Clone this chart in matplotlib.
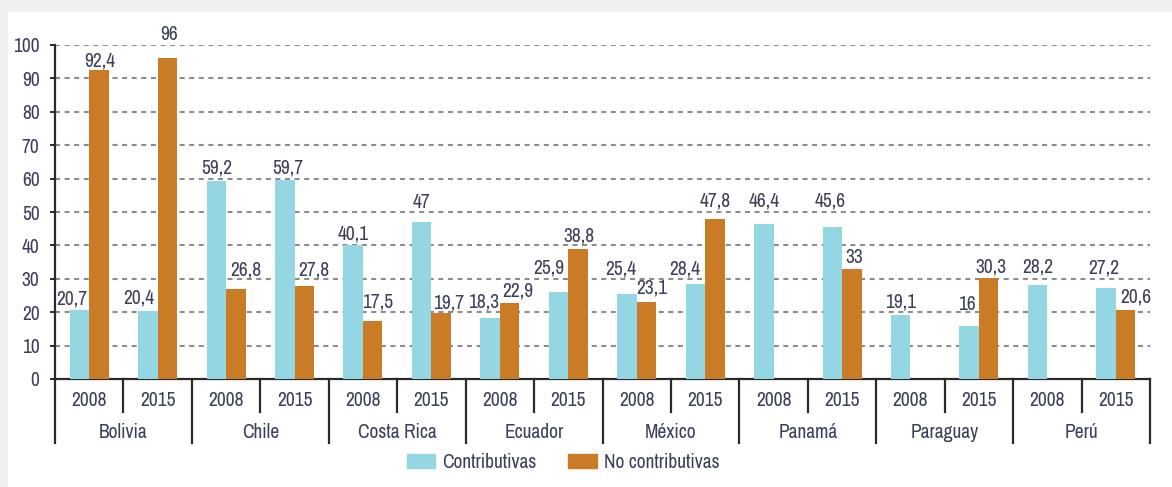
import numpy as np
import matplotlib
matplotlib.use('Agg')
import matplotlib.pyplot as plt
from matplotlib.patches import Patch, Rectangle
from matplotlib.lines import Line2D

countries = ['Bolivia', 'Chile', 'Costa Rica', 'Ecuador', 'México', 'Panamá', 'Paraguay', 'Perú']
years = ['2008', '2015']

# values per country: [2008, 2015]
contributivas = [[20.7, 20.4], [59.2, 59.7], [40.1, 47], [18.3, 25.9],
                 [25.4, 28.4], [46.4, 45.6], [19.1, 16], [28.2, 27.2]]
no_contributivas = [[92.4, 96], [26.8, 27.8], [17.5, 19.7], [22.9, 38.8],
                    [23.1, 47.8], [None, 33], [None, 30.3], [None, 20.6]]

# hand placed value labels (pixel shift x, pixel gap above the bar)
lab_blue = [[(-8, 5), (-9, 7)], [(0, 8), (3, 6)], [(0, 6), (0, 14)], [(-7, 10), (-10, 19)],
            [(-6, 20), (-11, 10)], [(0, 18), (-2, 20)], [(0, 8), (-2, 16)], [(0, 12), (-2, 15)]]
lab_orange = [[(1, 4), (2, 18)], [(10, 14), (10, 11)], [(5, 13), (7, 5)], [(8, 6), (1, 8)],
              [(5, 8), (0, 13)], [None, (2, 6)], [None, (2, 5)], [None, (10, 8)]]

BLUE = '#94d6e2'
ORANGE = '#c97b26'
TEXT = '#3b3f58'
LINE = '#2a2a2a'

plt.rcParams['font.family'] = ['Archivo Narrow', 'DejaVu Sans']

fig = plt.figure(figsize=(11.72, 4.87), dpi=100)
fig.patch.set_facecolor('#f0f0f0')
fig.patches.append(Rectangle((8 / 1172, 0), 1, 1 - 12 / 487, transform=fig.transFigure,
                             facecolor='white', edgecolor='none', zorder=-10))

left, right = 55 / 1172, 1150 / 1172
bottom, top = 1 - 379 / 487, 1 - 45 / 487
ax = fig.add_axes([left, bottom, right - left, top - bottom])
ax.set_facecolor('none')


def value_label(x, v, shift):
    dx, gap = shift
    ax.annotate(f'{v:g}'.replace('.', ','), (x, v), xytext=(dx * 0.72, gap * 0.72),
                textcoords='offset points', ha='center', va='baseline',
                fontsize=fs, color=TEXT, annotation_clip=False)


w = 0.285
fs = 14
for i, c in enumerate(countries):
    for j, y in enumerate(years):
        x = 2 * i + j + 0.5
        vb = contributivas[i][j]
        vo = no_contributivas[i][j]
        ax.bar(x - w / 2, vb, width=w, color=BLUE, zorder=3)
        value_label(x - w / 2, vb, lab_blue[i][j])
        if vo is not None:
            ax.bar(x + w / 2, vo, width=w, color=ORANGE, zorder=3)
            value_label(x + w / 2, vo, lab_orange[i][j])

ax.set_xlim(0, 16)
ax.set_ylim(0, 100)
ax.set_yticks(np.arange(0, 101, 10))
ax.set_yticklabels([str(v) for v in range(0, 101, 10)], fontsize=fs, color=TEXT)
ax.tick_params(axis='y', length=3.6, width=1.4, color=LINE, pad=7.5)
ax.set_xticks([])
for v in range(10, 101, 10):
    ax.axhline(v, color='#8c8c8c', linestyle=(0, (2.4, 2.2)), linewidth=1.5, zorder=1)

for s in ['top', 'right']:
    ax.spines[s].set_visible(False)
for s in ['left', 'bottom']:
    ax.spines[s].set_color(LINE)
    ax.spines[s].set_linewidth(1.6)

# category axis: year labels, country labels and separators
tr = ax.get_xaxis_transform()
px = 1 / ((top - bottom) * 487)  # one pixel in axes y units
for k in range(17):
    if k % 2 == 0:
        y_end = -(443 - 379) * px
    else:
        y_end = -(412 - 379) * px
    ax.add_line(Line2D([k, k], [0, y_end], transform=tr, color=LINE,
                       linewidth=1.6, clip_on=False))
for i, c in enumerate(countries):
    for j, y in enumerate(years):
        ax.text(2 * i + j + 0.5, -(400 - 379) * px, y, transform=tr, ha='center',
                va='center', fontsize=fs, color=TEXT)
    ax.text(2 * i + 1, -(433 - 379) * px, c, transform=tr, ha='center', va='center',
            fontsize=fs, color=TEXT)

handles = [Patch(color=BLUE, label='Contributivas'), Patch(color=ORANGE, label='No contributivas')]
fig.legend(handles=handles, loc='center', bbox_to_anchor=(563 / 1172, 1 - 462 / 487), ncol=2,
           frameon=False, fontsize=fs, handlelength=1.45, handleheight=0.72,
           handletextpad=0.36, columnspacing=1.65, labelcolor=TEXT)

fig.savefig('out.png', dpi=100, facecolor=fig.get_facecolor())
